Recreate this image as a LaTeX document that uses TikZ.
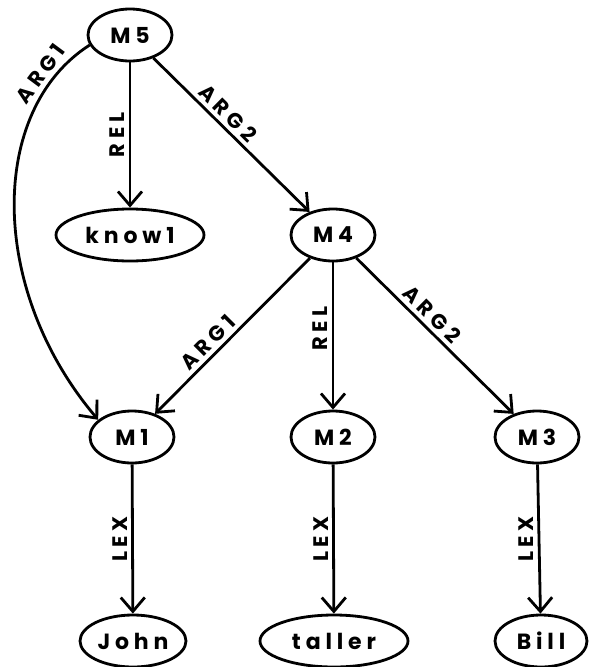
\documentclass[tikz,border=0pt]{standalone}
\usepackage{fontspec}
\setmainfont{Poppins}[LetterSpace=22]
\usetikzlibrary{
	positioning				% Allows relative placement
	, arrows.meta			% Allows open barb arrow tips
	, shapes				% Allows ellipse nodes
}

\begin{document}
\begin{tikzpicture}[
		x=1pt, y=-1pt
		, concept/.style={draw, ellipse, line width=2.8pt, inner sep=0pt, minimum height=52pt
			, font=\fontsize{22}{26}\selectfont\bfseries}
		, molnode/.style={concept, minimum width=84pt}
		, basearrow/.style={line width=2.8pt, -{Straight Barb[length=14pt, width=24pt, line width=2.8pt]}}
		, arclabel/.style={font=\fontsize{21}{24}\selectfont\bfseries, inner sep=4pt}]

		%%% Frame of the picture
		\useasboundingbox (0, 0) rectangle (589, 667);

		%%% Molecular nodes
		\node[molnode] (M5) at (130, 35) {M5};
		\node[molnode] (M4) at (333, 235) {M4};
		\node[molnode] (M1) at (132, 437) {M1};
		\node[molnode] (M2) at (333, 437) {M2};
		\node[molnode] (M3) at (537, 437) {M3};

		%%% Base nodes
		\node[concept, minimum width=148pt] (know1) at (130, 235) {know1};
		\node[concept, minimum width=106pt] (John) at (133, 641) {John};
		\node[concept, minimum width=148pt] (taller) at (334, 641) {taller};
		\node[concept, minimum width=92pt] (Bill) at (541, 641) {Bill};

		%%% Arcs
		%% M5
		\draw[basearrow] (M5.194) .. controls (-12, 110) and (-12, 290) .. (M1.153)
			node[arclabel, pos=0.15, sloped, above] {ARG1};
		\draw[basearrow] (M5) -- node[arclabel, midway, above, rotate=90] {REL} (know1);
		\draw[basearrow] (M5) -- node[arclabel, pos=0.42, sloped, above] {ARG2} (M4);

		%% M4
		\draw[basearrow] (M4) -- node[arclabel, pos=0.6, sloped, above] {ARG1} (M1);
		\draw[basearrow] (M4) -- node[arclabel, pos=0.45, above, rotate=90] {REL} (M2);
		\draw[basearrow] (M4) -- node[arclabel, pos=0.42, sloped, above] {ARG2} (M3);

		%% Lexical arcs
		\draw[basearrow] (M1) -- node[arclabel, midway, above, rotate=90] {LEX} (John);
		\draw[basearrow] (M2) -- node[arclabel, midway, above, rotate=90] {LEX} (taller);
		\draw[basearrow] (M3) -- node[arclabel, midway, above, rotate=90] {LEX} (Bill);
	\end{tikzpicture}
\end{document}
